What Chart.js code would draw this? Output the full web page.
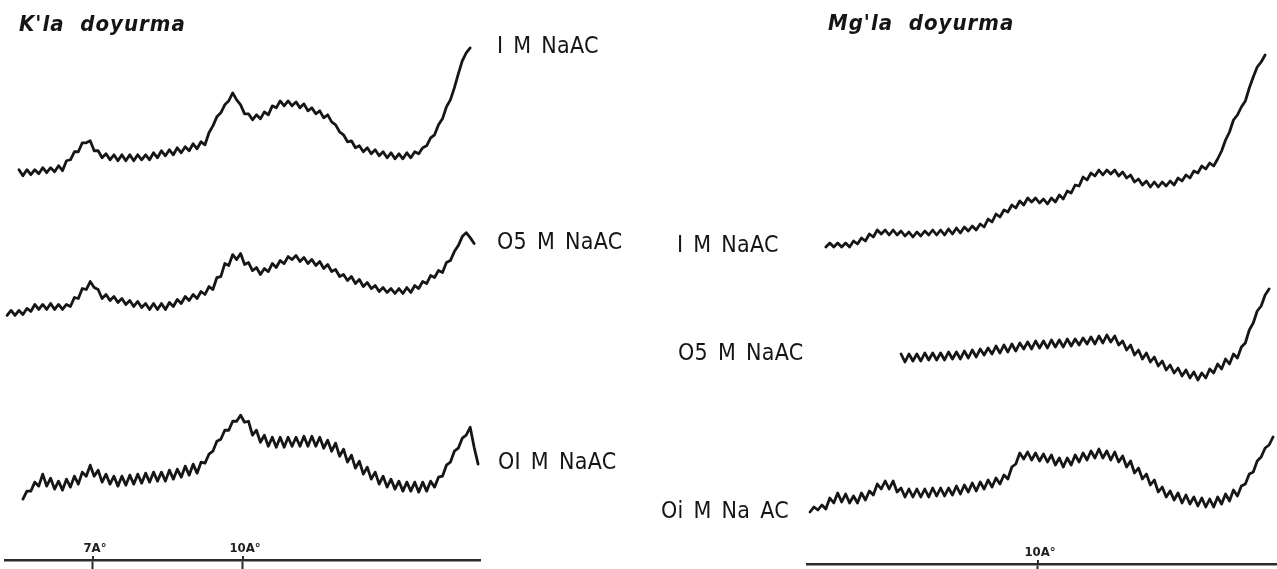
<!DOCTYPE html>
<html lang="tr">
  <head>
    <meta charset="UTF-8" />
    <title>K'la ve Mg'la doyurma</title>
    <style>
      body { margin: 0; background: #fff; }
      #page { position: relative; width: 1277px; height: 569px; overflow: hidden; }
      canvas { position: absolute; top: 0; }
      .title, .lbl { position: absolute; white-space: pre; color: #151515; line-height: 1; }
      .title { font: italic bold 22px "Liberation Sans Narrow", "DejaVu Sans Condensed", sans-serif; letter-spacing: 1px; }
      .lbl { font: 23px "Liberation Sans Narrow", "DejaVu Sans Condensed", sans-serif; letter-spacing: 0.3px; word-spacing: 3px; }
    </style>
  </head>
  <body>
    <div id="page">
      <canvas id="leftChart" width="640" height="569" style="left:0"></canvas>
      <canvas id="rightChart" width="637" height="569" style="left:640px"></canvas>
      <div class="title" style="left:19px;top:11px">K'la  doyurma</div>
      <div class="title" style="left:828px;top:10px">Mg'la  doyurma</div>
      <div class="lbl" style="left:497px;top:32px" id="l0"></div>
      <div class="lbl" style="left:497px;top:228px" id="l1"></div>
      <div class="lbl" style="left:498px;top:448px" id="l2"></div>
      <div class="lbl" style="left:677px;top:231px" id="r0"></div>
      <div class="lbl" style="left:678px;top:339px" id="r1"></div>
      <div class="lbl" style="left:661px;top:497px" id="r2"></div>
    </div>
    <script src="https://cdn.jsdelivr.net/npm/chart.js"></script>
    <script>
      // 2-theta (deg) sampling of the left recorder traces
      const angleLeft = [14.8,14.7,14.6,14.5,14.4,14.3,14.2,14.1,14.0,13.9,13.8,13.7,13.6,13.5,13.4,13.3,13.2,13.1,13.0,12.9,
        12.8,12.7,12.6,12.5,12.4,12.3,12.2,12.1,12.0,11.9,11.8,11.7,11.6,11.5,11.4,11.3,11.2,11.1,11.0,10.9,
        10.8,10.7,10.6,10.5,10.4,10.3,10.2,10.1,10.0,9.9,9.8,9.7,9.6,9.5,9.4,9.3,9.2,9.1,9.0,8.9,
        8.8,8.7,8.6,8.5,8.4,8.3,8.2,8.1,8.0,7.9,7.8,7.7,7.6,7.5,7.4,7.3,7.2,7.1,7.0,6.9,
        6.8,6.7,6.6,6.5,6.4,6.3,6.2,6.1,6.0,5.9,5.8,5.7,5.6,5.5,5.4,5.3,5.2,5.1,5.0,4.9,
        4.8,4.7,4.6,4.5,4.4,4.3,4.2,4.1,4.0,3.9,3.8,3.7,3.6,3.5,3.4,3.3,3.2,3.1,3.0,2.9];

      // K'la doyurma, 1 M NaAC
      const kOne = [null,null,null,30,24,30,25,30,26,32,27,32,28,34,29,39,40,48,48,57,
        57,59,49,49,42,46,40,45,39,45,39,45,39,45,40,45,40,47,42,49,
        44,50,45,52,47,53,49,56,51,58,55,67,74,83,87,95,99,107,100,95,
        86,86,80,85,81,88,85,94,92,99,94,99,94,98,92,96,89,92,86,89,
        82,85,78,75,68,65,58,59,52,54,48,52,46,50,44,48,42,47,41,46,
        41,47,42,48,46,52,54,62,65,75,81,93,100,112,126,139,147,152,null,null];

      // K'la doyurma, 0.5 M NaAC
      const kHalf = [64,69,64,69,65,71,68,75,70,75,70,76,70,75,70,75,73,82,81,91,
        90,98,92,90,81,85,79,83,77,81,75,79,73,78,72,76,70,76,70,76,
        70,77,73,80,76,83,79,85,81,88,85,93,90,102,103,116,114,125,120,126,
        115,117,109,112,105,111,108,116,112,119,116,123,120,124,118,122,116,120,114,118,
        111,115,108,110,103,105,99,103,96,100,93,97,91,94,88,92,87,91,86,91,
        86,92,87,94,91,98,96,104,102,109,107,117,119,128,134,143,147,142,136,null];

      // K'la doyurma, 0.1 M NaAC
      const kTenth = [null,null,null,null,61,69,69,78,74,86,74,82,71,79,70,81,73,84,76,88,
        84,95,84,90,78,86,76,84,74,84,75,85,76,86,77,87,78,88,79,88,
        79,90,81,91,83,94,85,96,87,98,97,106,109,119,121,130,130,139,139,145,
        138,139,125,130,118,125,114,123,113,123,113,123,114,123,114,124,114,124,114,123,
        112,120,109,117,104,111,98,105,92,99,86,93,81,88,76,84,73,81,71,79,
        69,78,69,78,68,78,69,79,73,83,84,95,98,109,112,122,125,133,113,96];

      // 2-theta (deg) sampling of the right recorder traces
      const angleRight = [14.6,14.5,14.4,14.3,14.2,14.1,14.0,13.9,13.8,13.7,13.6,13.5,13.4,13.3,13.2,13.1,13.0,12.9,
        12.8,12.7,12.6,12.5,12.4,12.3,12.2,12.1,12.0,11.9,11.8,11.7,11.6,11.5,11.4,11.3,11.2,11.1,11.0,10.9,
        10.8,10.7,10.6,10.5,10.4,10.3,10.2,10.1,10.0,9.9,9.8,9.7,9.6,9.5,9.4,9.3,9.2,9.1,9.0,8.9,
        8.8,8.7,8.6,8.5,8.4,8.3,8.2,8.1,8.0,7.9,7.8,7.7,7.6,7.5,7.4,7.3,7.2,7.1,7.0,6.9,
        6.8,6.7,6.6,6.5,6.4,6.3,6.2,6.1,6.0,5.9,5.8,5.7,5.6,5.5,5.4,5.3,5.2,5.1,5.0,4.9,
        4.8,4.7,4.6,4.5,4.4,4.3,4.2,4.1,4.0,3.9,3.8,3.7,3.6,3.5,3.4,3.3,3.2,3.1,3.0,2.9];

      // Mg'la doyurma, 1 M NaAC
      const mgOne = [null,null,null,null,13,17,13,17,13,17,13,19,16,22,19,26,23,30,
        26,30,25,30,25,29,24,28,23,28,24,29,25,30,25,30,25,31,26,32,
        27,33,29,34,30,36,33,41,38,46,43,50,48,55,52,59,55,62,58,62,
        57,61,56,62,58,65,61,69,67,75,74,83,80,87,84,90,85,90,86,90,
        84,88,82,85,78,81,75,79,73,78,73,78,74,79,75,82,79,85,82,89,
        87,94,91,97,94,101,109,120,128,140,145,153,159,172,183,193,198,205,null,null];

      // Mg'la doyurma, 0.5 M NaAC
      const mgHalf = [null,null,null,null,null,null,null,null,null,null,null,null,null,null,null,null,null,null,
        null,null,null,null,null,56,48,56,49,56,49,57,50,57,50,57,50,58,51,58,
        51,59,52,60,53,61,55,62,56,64,57,65,58,66,59,67,61,68,61,69,
        62,69,62,70,63,70,63,71,64,71,65,72,66,73,66,74,67,75,68,74,
        65,69,60,65,55,60,51,57,48,53,44,49,40,45,37,42,34,40,32,38,
        30,37,32,41,37,46,41,51,46,56,52,63,67,80,87,99,104,115,121,null];

      // Mg'la doyurma, 0.1 M NaAC
      const mgTenth = [52,57,54,59,55,66,61,71,62,70,61,68,61,71,64,73,69,80,
        75,83,75,83,72,76,67,75,67,75,67,75,67,76,68,76,68,76,69,78,
        70,79,72,81,73,82,75,84,77,86,80,89,85,97,100,111,105,112,104,111,
        103,110,102,109,99,106,97,106,99,109,102,111,104,113,106,115,106,113,104,112,
        102,108,97,103,91,96,85,90,79,84,72,77,67,73,64,71,61,69,60,67,
        58,66,57,65,57,67,60,70,63,74,68,78,80,90,92,103,107,116,119,127];

      const leftLabels = ['I M NaAC', 'O5 M NaAC', 'OI M NaAC'];
      const rightLabels = ['I M NaAC', 'O5 M NaAC', 'Oi M Na AC'];
      const tickAngles = [12.63, 8.84];
      const tickNames = ['7A°', '10A°'];

      leftLabels.forEach((t, i) => { document.getElementById('l' + i).textContent = t; });
      rightLabels.forEach((t, i) => { document.getElementById('r' + i).textContent = t; });

      const ink = '#161616';
      const axisInk = '#2b2b2b';

      const trace = (angles, values, axis) => ({
        data: angles.map((a, i) => ({ x: a, y: values[i] })),
        yAxisID: axis,
        borderColor: ink,
        borderWidth: 2.8,
        borderJoinStyle: 'round',
        borderCapStyle: 'round',
        pointRadius: 0,
        tension: 0,
        spanGaps: false,
      });

      const bandAxis = (height, weight) => ({
        type: 'linear',
        position: 'left',
        stack: 'traces',
        stackWeight: height,
        weight: weight,
        min: 0,
        max: height,
        ticks: { display: false },
        grid: { display: false },
        border: { display: false },
        afterFit: (s) => { s.width = 0; },
      });

      const xAxis = (min, max, axisHeight, tickAt, names) => ({
        type: 'linear',
        reverse: true,
        min: min,
        max: max,
        afterBuildTicks: (s) => { s.ticks = tickAt.map((v) => ({ value: v })); },
        afterFit: (s) => { s.height = axisHeight; },
        border: { display: true, color: axisInk, width: 2.5 },
        grid: { display: true, drawOnChartArea: false, drawTicks: true, tickLength: 9, tickWidth: 2, tickColor: axisInk },
        ticks: { display: false, autoSkip: false },
        names: names,
      });

      // writes the d-spacing names just above the base line, at the x scale's tick positions
      const tickNamePlugin = {
        id: 'tickNames',
        afterDraw(chart) {
          const s = chart.scales.x;
          const names = s.options.names;
          const ctx = chart.ctx;
          ctx.save();
          ctx.fillStyle = '#202020';
          ctx.font = 'bold 13px "Liberation Sans Narrow", "DejaVu Sans Condensed", sans-serif';
          ctx.textAlign = 'center';
          ctx.textBaseline = 'alphabetic';
          s.ticks.forEach((t, i) => {
            ctx.fillText(names[i], s.getPixelForValue(t.value) + 2, s.top - 8);
          });
          ctx.strokeStyle = axisInk;
          ctx.lineWidth = 2;
          s.ticks.forEach((t) => {
            const px = s.getPixelForValue(t.value);
            ctx.beginPath();
            ctx.moveTo(px, s.top - 4);
            ctx.lineTo(px, s.top);
            ctx.stroke();
          });
          ctx.restore();
        },
      };

      const common = {
        responsive: false,
        animation: false,
        events: [],
        plugins: { legend: { display: false }, tooltip: { enabled: false } },
      };

      new Chart(document.getElementById('leftChart'), {
        type: 'line',
        data: {
          datasets: [
            trace(angleLeft, kOne, 'y1'),
            trace(angleLeft, kHalf, 'y2'),
            trace(angleLeft, kTenth, 'y3'),
          ],
        },
        options: {
          ...common,
          layout: { padding: { left: 5, right: 160, top: 30, bottom: 0 } },
          scales: {
            x: xAxis(2.852, 14.853, 9, tickAngles, tickNames),
            y1: bandAxis(170, 3),
            y2: bandAxis(180, 2),
            y3: bandAxis(181, 1),
          },
        },
        plugins: [tickNamePlugin],
      });

      new Chart(document.getElementById('rightChart'), {
        type: 'line',
        data: {
          datasets: [
            trace(angleRight, mgOne, 'y1'),
            trace(angleRight, mgHalf, 'y2'),
            trace(angleRight, mgTenth, 'y3'),
          ],
        },
        options: {
          ...common,
          layout: { padding: { left: 167, right: 0, top: 30, bottom: 0 } },
          scales: {
            x: xAxis(2.80, 14.676, 5, [tickAngles[1]], [tickNames[1]]),
            y1: bandAxis(230, 3),
            y2: bandAxis(150, 2),
            y3: bandAxis(154, 1),
          },
        },
        plugins: [tickNamePlugin],
      });
    </script>
  </body>
</html>
